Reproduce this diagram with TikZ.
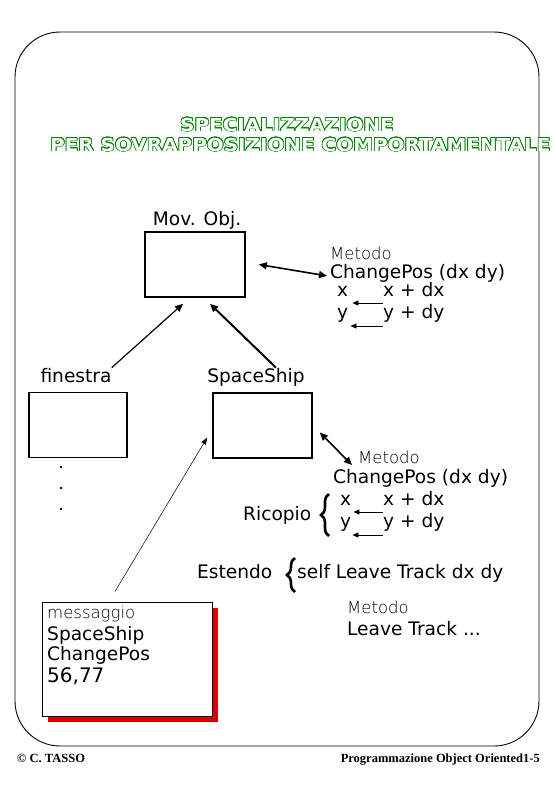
\documentclass[tikz,border=0pt]{standalone}
\usepackage{fontspec}
\setmainfont{DejaVu Sans}
\newfontfamily\thinfont{DejaVu Sans ExtraLight}
\newfontfamily\footfont{Liberation Serif}
\usepackage{contour}
\contourlength{0.65pt}
\usepackage{tikz}
\usetikzlibrary{
  arrows.meta,
  positioning,
  shadows,
  decorations.pathreplacing
}
\definecolor{titlegreen}{RGB}{0, 128, 0}
\definecolor{shadowred}{RGB}{220, 0, 0}
\tikzset{
  classbox/.style = {
    draw, line width=1.6pt, inner sep=0pt,
    minimum width=#1, minimum height=65pt
  },
  classbox/.default = 99pt,
  txt/.style = {anchor=base west, inner sep=0pt,
    font=\fontsize{18.6}{21}\selectfont},
  thintxt/.style = {anchor=base west, inner sep=0pt,
    font=\thinfont\fontsize{16.5}{19}\selectfont},
  ttl/.style = {anchor=base west, inner sep=0pt, text=white,
    font=\bfseries\fontsize{17.8}{20}\selectfont},
  foot/.style = {inner sep=0pt,
    font=\footfont\bfseries\fontsize{12.5}{14}\selectfont},
  msgbox/.style = {
    draw, line width=1pt, fill=white, inner sep=0pt,
    minimum width=170pt, minimum height=114pt,
    drop shadow={shadow xshift=6pt, shadow yshift=-6pt,
                 fill=shadowred, opacity=1}
  },
  dblarr/.style = {{Triangle[length=8pt,width=7pt]}-{Triangle[length=8pt,width=7pt]},
    line width=1.6pt},
  uparr/.style  = {-{Triangle[length=8pt,width=7pt]}, line width=#1},
  uparr/.default = 1.2pt,
  assign/.style = {-{Triangle[length=6pt,width=5pt]}, line width=0.8pt},
  msgarr/.style = {-{Triangle[length=7pt,width=5pt]}, line width=0.5pt},
  brc/.style = {decorate, decoration={brace, amplitude=8pt}, line width=2.6pt},
}

\begin{document}
\begin{tikzpicture}[x=1pt, y=-1pt]
  \useasboundingbox (0,0) rectangle (556,812);

  % slide frame
  \draw[line width=0.9pt, rounded corners=45pt] (15,32) rectangle (539,746);

  % title
  \node[ttl] (ttl1) at (180,131)
    {\scalebox{1.12}[1]{\contour{titlegreen}{SPECIALIZZAZIONE}}};
  \node[ttl] (ttl2) at (50,151)
    {\scalebox{1.12}[1]{\contour{titlegreen}{PER SOVRAPPOSIZIONE COMPORTAMENTALE}}};

  % classes
  \node[txt, anchor=base] (movlbl) at (197,225) {Mov. Obj.};
  \node[classbox=100pt] (movobj) at (195,264.5) {};
  \node[txt, anchor=base] (finlbl) at (76,382) {finestra};
  \node[classbox=98pt] (finbox) at (78,425) {};
  \node[txt, anchor=base] (sslbl) at (256,382) {SpaceShip};
  \node[classbox] (ssbox) at (262.5,425.5) {};
  \foreach \dy in {467,488,509}
    \fill (61,\dy) circle (1.3pt);

  % method of Mov. Obj.
  \node[thintxt] (met1) at (330,259) {Metodo};
  \node[txt] (cp1) at (330,278) {ChangePos (dx dy)};
  \node[txt] (xa) at (337,296) {x};
  \node[txt] (xdxa) at (383,296) {x + dx};
  \node[txt] (ya) at (337,318) {y};
  \node[txt] (ydya) at (383,318) {y + dy};

  % method of SpaceShip
  \node[thintxt] (met2) at (358,463) {Metodo};
  \node[txt] (cp2) at (333,483) {ChangePos (dx dy)};
  \node[txt] (ricopio) at (243,520) {Ricopio};
  \node[txt] (xb) at (340,505) {x};
  \node[txt] (xdxb) at (383,505) {x + dx};
  \node[txt] (yb) at (340,527) {y};
  \node[txt] (ydyb) at (383,527) {y + dy};
  \draw[brc] (329,536) -- (329,494);
  \node[txt] (estendo) at (197,578) {Estendo};
  \draw[brc] (295,592) -- (295,558);
  \node[txt] (self) at (297,578) {self Leave Track dx dy};
  \node[thintxt] (met3) at (347,613) {Metodo};
  \node[txt] (lt) at (347,635) {Leave Track ...};

  % message
  \node[msgbox] (msg) at (127,659) {};
  \node[thintxt] (msg1) at (47,618) {messaggio};
  \node[txt] (msg2) at (47,640) {SpaceShip};
  \node[txt] (msg3) at (47,660) {ChangePos};
  \node[txt, font=\fontsize{20}{23}\selectfont] (msg4) at (47,682) {56,77};

  % footer
  \node[foot, anchor=base west] (copy) at (17,762) {© C. TASSO};
  \node[foot, anchor=base east] (course) at (540,762)
    {Programmazione Object Oriented1-5};

  %% Arrows
  \draw[uparr] (finlbl.north east) -- ([shift={(-12,6)}]movobj.south);
  \draw[uparr=2pt] ([xshift=20]sslbl.north) -- ([shift={(15,6)}]movobj.south);
  \draw[dblarr] ([xshift=13]movobj.east) -- ([shift={(-3,3)}]cp1.west);
  \draw[assign] ([shift={(0,7)}]xdxa.base west) -- ([shift={(4,7)}]xa.base east);
  \draw[assign] ([shift={(0,8)}]ydya.base west) -- ([shift={(2,8)}]ya.base east);
  \draw[dblarr] ([shift={(7,7)}]ssbox.east) -- ([shift={(-6,2)}]met2.base west);
  \draw[assign] ([shift={(0,7)}]xdxb.base west) -- ([shift={(2,7)}]xb.base east);
  \draw[assign] ([shift={(0,8)}]ydyb.base west) -- ([shift={(1,8)}]yb.base east);
  \draw[msgarr] ([shift={(-12,-10)}]msg.north) -- ([shift={(-5,12)}]ssbox.west);

\end{tikzpicture}
\end{document}
